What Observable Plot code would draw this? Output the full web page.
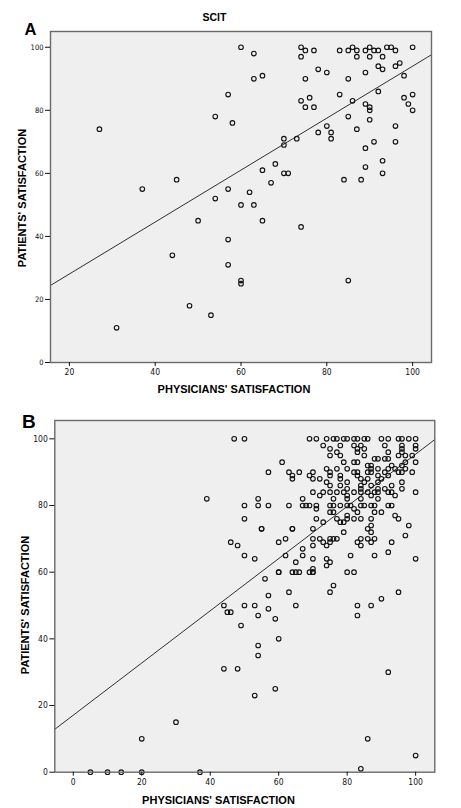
<!DOCTYPE html>
<html><head><meta charset="utf-8">
<script src="https://cdn.jsdelivr.net/npm/d3@7"></script>
<script src="https://cdn.jsdelivr.net/npm/@observablehq/plot@0.6"></script>
<style>
body{margin:0;background:#fff;}
#wrap{position:relative;width:461px;height:808px;overflow:hidden;}
.panel{position:absolute;left:0;}
#overlay{position:absolute;left:0;top:0;pointer-events:none;}
</style></head><body>
<div id="wrap">
  <div class="panel" id="pA" style="top:0px"></div>
  <div class="panel" id="pB" style="top:400px"></div>
  <svg id="overlay" width="461" height="808" font-family="'Liberation Sans', Arial, sans-serif" font-weight="bold" fill="#000">
    <text x="24.5" y="34.5" font-size="16.5">A</text>
    <text x="214.5" y="21" font-size="10.5" text-anchor="middle">SCIT</text>
    <text x="234" y="393" font-size="11" text-anchor="middle">PHYSICIANS' SATISFACTION</text>
    <text transform="translate(26,198) rotate(-90)" font-size="11" text-anchor="middle">PATIENTS' SATISFACTION</text>
    <text x="22" y="428" font-size="19">B</text>
    <text x="218.5" y="804" font-size="11" text-anchor="middle">PHYSICIANS' SATISFACTION</text>
    <text transform="translate(28.5,605) rotate(-90)" font-size="11" text-anchor="middle">PATIENTS' SATISFACTION</text>
  </svg>
</div>
<script>
// ---------- Panel A (SCIT) ----------
const physA = [27,60,63,63,65,57,54,58,74,75,74,77,75,78,80,74,76,75,77,83,85,86,87,87,89,90,91,92,93,90,94,95,96,100,89,92,93,96,97,85,98,83,86,92,98,100,99,100,89,90,90,85,90,87,96,80,78,81,81,73,70,70,91,96,89,93,89,93,70,71,68,65,67,84,88,45,37,57,62,54,60,63,50,65,74,57,44,57,60,60,85,48,53,31];
const patA  = [74,100,98,90,91,85,78,76,100,99,97,99,90,93,92,83,84,81,81,99,99,100,99,97,99,100,99,99,97,97,100,100,99,100,92,94,93,94,95,90,91,85,83,86,84,85,82,80,82,81,80,78,77,74,75,75,73,73,71,71,71,69,70,70,68,64,62,60,60,60,63,61,57,58,58,58,55,55,54,52,50,50,45,45,43,39,34,31,26,25,26,18,15,11];
const xTicksA = [20,40,60,80,100];
const yTicks = [0,20,40,60,80,100];
const xDomainA = [15.6,104.4];
const yDomainA = [0,105];
const regA = {intercept: 11.6, slope: 0.824};

// ---------- Panel B ----------
const physB = [
 47,50,69,71,74,76,77,79,80,82,83,85,86,90,92,95,96,98,100,
 73,78,82,84,91,96,100,
 75,83,85,96,100,
 77,83,92,96,
 75,78,85,95,97,99,
 88,89,91,92,
 82,83,
 61,79,97,100,
 86,87,93,96,
 74,77,80,87,89,92,94,97,
 57,63,66,70,75,82,83,86,87,91,95,96,99,
 64,69,75,78,83,89,92,
 64,70,72,78,84,86,90,
 74,80,85,89,96,
 75,78,84,87,93,
 80,84,89,91,96,
 70,73,75,77,79,82,84,86,88,89,92,93,100,
 72,80,87,94,
 39,54,67,76,80,84,89,
 50,54,57,63,67,68,69,71,75,76,78,80,81,84,85,87,88,92,93,
 71,82,
 75,76,83,88,90,
 80,94,
 50,71,77,80,82,84,87,95,
 73,78,79,
 87,98,
 55,55,64,64,70,86,
 79,87,
 97,
 72,75,76,77,84,86,88,62,70,
 46,60,73,75,83,87,93,
 48,70,74,84,
 67,92,
 50,62,67,81,88,
 53,70,74,100,
 65,75,74,70,
 60,60,64,65,66,69,70,80,82,70,
 56,76,63,75,95,57,90,
 44,50,53,65,83,87,
 57,45,46,54,83,59,49,60,54,54,44,48,92,59,53,30,20,86,100,84,
 5,10,14,20,37
];
const patB = [
 100,100,100,100,100,100,100,100,100,100,100,100,100,100,100,100,100,100,100,
 98,98,98,98,98,98,98,
 97,97,97,97,97,
 96,96,96,96,
 95,95,95,95,95,95,
 94,94,94,94,
 93,93,
 93,93,93,93,
 92,92,92,92,
 91,91,91,91,91,91,91,91,
 90,90,90,90,90,90,90,90,90,90,90,90,90,
 89,89,89,89,89,89,89,
 88,88,88,88,88,88,88,
 87,87,87,87,87,
 86,86,86,86,86,
 85,85,85,85,85,
 84,84,84,84,84,84,84,84,84,84,84,84,84,
 83,83,83,83,
 82,82,82,82,82,82,82,
 80,80,80,80,80,80,80,80,80,80,80,80,80,80,80,80,80,80,80,
 79,79,
 78,78,78,78,78,
 77,77,
 76,76,76,76,76,76,76,76,
 75,75,75,
 74,74,
 73,73,73,73,73,73,
 72,72,
 71,
 70,70,70,70,70,70,70,70,70,
 69,69,69,69,69,69,69,
 68,68,68,68,
 67,66,
 65,65,65,65,65,
 64,64,64,64,
 63,63,62,61,
 60,60,60,60,60,60,60,60,60,60,
 58,56,54,54,54,53,52,
 50,50,50,50,50,50,
 49,48,48,47,47,46,44,40,38,35,31,31,30,25,23,15,10,10,5,1,
 0,0,0,0,0
];
const xTicksB = [0,20,40,60,80,100];
const xDomainB = [-5.4,105.6];
const yDomainB = [0,105.5];
const regB = {intercept: 17.1, slope: 0.783};

function panel(o) {
  const data = o.xs.map((x, i) => ({x, y: o.ys[i]}));
  const fit = o.xDomain.map(x => ({x, y: o.reg.intercept + o.reg.slope * x}));
  return Plot.plot({
    width: 461,
    height: o.height,
    marginTop: o.mt, marginBottom: o.mb, marginLeft: o.ml, marginRight: o.mr,
    x: {domain: o.xDomain, label: null},
    y: {domain: o.yDomain, label: null},
    style: {fontFamily: "'Liberation Sans Narrow','DejaVu Sans Condensed','Liberation Sans',Arial,sans-serif", fontSize: o.fs + "px", color: "#111", background: "transparent"},
    marks: [
      Plot.frame({fill: "#efefef", stroke: null}),
      Plot.dot(data, {x: "x", y: "y", r: 2.3, stroke: "#111", strokeWidth: 1.1, fill: "none"}),
      Plot.line(fit, {x: "x", y: "y", stroke: "#1a1a1a", strokeWidth: 0.9}),
      Plot.frame({stroke: "#6a6a6a", strokeWidth: 1.4}),
      Plot.axisX({ticks: o.xTicks, tickSize: 4, tickPadding: 2.5, label: null, fontSize: o.fs}),
      Plot.axisY({ticks: yTicks, tickSize: 5, tickPadding: 2, label: null, fontSize: o.fsy})
    ]
  });
}

document.getElementById("pA").appendChild(panel({
  xs: physA, ys: patA, xDomain: xDomainA, yDomain: yDomainA, xTicks: xTicksA, reg: regA,
  height: 400, mt: 31, mb: 38, ml: 50, mr: 30, fs: 8.5, fsy: 7.5
}));
document.getElementById("pB").appendChild(panel({
  xs: physB, ys: patB, xDomain: xDomainB, yDomain: yDomainB, xTicks: xTicksB, reg: regB,
  height: 408, mt: 20, mb: 36.3, ml: 54.3, mr: 26.7, fs: 8.5, fsy: 8.5
}));
</script>
</body></html>
